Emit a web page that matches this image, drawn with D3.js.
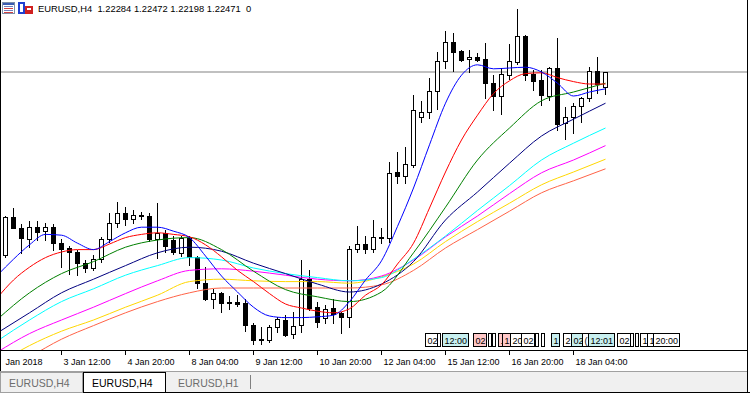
<!DOCTYPE html>
<html>
<head>
<meta charset="utf-8">
<script src="https://cdn.jsdelivr.net/npm/d3@7"></script>
<style>
  body { margin: 0; background: #fff; }
  svg { display: block; font-family: "Liberation Sans", Arial, sans-serif; }
</style>
</head>
<body>
<svg id="chart" width="750" height="393"></svg>
<script>
// EURUSD H4 bars, [open, high, low, close]
const ohlc = [
  [1.2018,1.2067,1.2016,1.2066],[1.2066,1.2077,1.2052,1.2052],[1.2052,1.2057,1.2021,1.2040],[1.2038,1.2061,1.2028,1.2053],
  [1.2053,1.2061,1.2037,1.2047],[1.2048,1.2058,1.2037,1.2053],[1.2053,1.2057,1.2025,1.2033],[1.2033,1.2038,1.2003,1.2026],
  [1.2027,1.2030,1.1995,1.2022],[1.2022,1.2025,1.1993,1.2008],[1.2008,1.2012,1.1997,1.2002],[1.2002,1.2018,1.2000,1.2013],
  [1.2013,1.2041,1.2010,1.2038],[1.2038,1.2071,1.2035,1.2058],[1.2058,1.2085,1.2053,1.2071],[1.2071,1.2078,1.2056,1.2063],
  [1.2063,1.2075,1.2058,1.2068],[1.2068,1.2072,1.2063,1.2067],[1.2067,1.2071,1.2036,1.2038],[1.2038,1.2083,1.2015,1.2046],
  [1.2046,1.2050,1.2022,1.2030],[1.2037,1.2042,1.2020,1.2022],[1.2021,1.2042,1.2017,1.2040],[1.2040,1.2042,1.2006,1.2016],
  [1.2016,1.2017,1.1977,1.1983],[1.1983,1.2003,1.1962,1.1963],[1.1963,1.1976,1.1952,1.1971],[1.1971,1.1972,1.1947,1.1958],
  [1.1958,1.1967,1.1951,1.1960],[1.1960,1.1968,1.1955,1.1957],[1.1958,1.1963,1.1923,1.1931],[1.1931,1.1933,1.1907,1.1912],
  [1.1913,1.1928,1.1907,1.1912],[1.1912,1.1931,1.1910,1.1928],[1.1928,1.1941,1.1922,1.1938],[1.1937,1.1943,1.1917,1.1918],
  [1.1920,1.1947,1.1915,1.1930],[1.1931,1.2012,1.1922,1.1988],[1.1988,1.2000,1.1950,1.1952],[1.1953,1.1960,1.1928,1.1935],
  [1.1940,1.1956,1.1933,1.1951],[1.1952,1.1963,1.1933,1.1945],[1.1946,1.1947,1.1921,1.1941],[1.1941,1.2030,1.1928,1.2026],
  [1.2026,1.2055,1.2022,1.2032],[1.2032,1.2042,1.2021,1.2026],[1.2026,1.2062,1.2022,1.2041],[1.2040,1.2052,1.2033,1.2041],
  [1.2040,1.2135,1.2035,1.2121],[1.2122,1.2147,1.2108,1.2117],[1.2117,1.2153,1.2108,1.2132],[1.2131,1.2218,1.2128,1.2200],
  [1.2191,1.2211,1.2185,1.2197],[1.2197,1.2240,1.2190,1.2223],[1.2223,1.2272,1.2201,1.2261],[1.2261,1.2298,1.2252,1.2285],
  [1.2285,1.2296,1.2248,1.2272],[1.2273,1.2275,1.2261,1.2262],[1.2263,1.2275,1.2247,1.2266],[1.2266,1.2271,1.2261,1.2262],
  [1.2263,1.2283,1.2215,1.2233],[1.2233,1.2243,1.2200,1.2217],[1.2217,1.2252,1.2195,1.2245],[1.2243,1.2282,1.2238,1.2261],
  [1.2260,1.2326,1.2257,1.2292],[1.2292,1.2293,1.2237,1.2243],[1.2245,1.2250,1.2225,1.2236],[1.2237,1.2250,1.2206,1.2218],
  [1.2217,1.2253,1.2212,1.2252],[1.2252,1.2290,1.2175,1.2182],[1.2183,1.2203,1.2163,1.2191],[1.2191,1.2208,1.2171,1.2205],
  [1.2205,1.2216,1.2185,1.2215],[1.2215,1.2253,1.2211,1.2248],[1.2248,1.2266,1.2221,1.2232],[1.22284,1.22472,1.22198,1.22471]
]

const symbol = "EURUSD,H4"
const timeTickBars = [-1, 7, 15, 23, 31, 39, 47, 55, 63, 71]
const timeTickLabels = ["Jan 2018", "3 Jan 12:00", "4 Jan 20:00", "8 Jan 04:00", "9 Jan 12:00",
  "10 Jan 20:00", "12 Jan 04:00", "15 Jan 12:00", "16 Jan 20:00", "18 Jan 04:00"]

// moving averages, sampled every 2 bars (fast ones) or every 4 bars (slow ones)
const fastBars = d3.range(-1, 76, 2)
const slowBars = d3.range(-1, 76, 4)
const maBlue = [1.1993,1.2013,1.2031,1.2044,1.2043,1.2033,1.2025,1.2035,1.2046,1.2053,1.2053,1.2048,1.2040,
  1.2017,1.1992,1.1972,1.1953,1.1942,1.1940,1.1940,1.1941,1.1943,1.1960,1.1987,1.2011,1.2054,1.2102,
  1.2156,1.2208,1.2243,1.2256,1.2251,1.2252,1.2253,1.2247,1.2233,1.2217,1.2222,1.2226]
const maRed = [1.1965,1.1987,1.2003,1.2015,1.2022,1.2025,1.2025,1.2032,1.2040,1.2044,1.2046,1.2044,1.2041,
  1.2031,1.2016,1.1999,1.1985,1.1970,1.1957,1.1952,1.1948,1.1946,1.1951,1.1968,1.1981,1.2007,1.2033,
  1.2077,1.2122,1.2162,1.2193,1.2220,1.2236,1.2245,1.2246,1.2240,1.2235,1.2232,1.2232]
const maGreen = [1.1938,1.1971,1.1995,1.2010,1.2028,1.2037,1.2040,1.2025,1.1998,1.1975,
  1.1966,1.1960,1.1972,1.2021,1.2078,1.2137,1.2177,1.2211,1.2222,1.2233]
const maNavy = [1.1921,1.1946,1.1971,1.1988,1.2005,1.2021,1.2028,1.2023,1.2008,1.1995,
  1.1982,1.1972,1.1982,1.2010,1.2062,1.2097,1.2133,1.2167,1.2188,1.2208]
const maCyan = [1.1911,1.1937,1.1960,1.1976,1.1993,1.2005,1.2015,1.2012,1.2002,1.1995,
  1.1990,1.1986,1.1990,1.2013,1.2042,1.2074,1.2105,1.2137,1.2158,1.2177]
const maMagenta = [1.1897,1.1920,1.1937,1.1953,1.1970,1.1986,1.1999,1.2001,1.1998,1.1993,
  1.1988,1.1986,1.1992,1.2012,1.2041,1.2067,1.2095,1.2121,1.2137,1.2155]
const maGold = [1.1882,1.1905,1.1923,1.1937,1.1953,1.1968,1.1985,1.1988,1.1986,1.1985,
  1.1985,1.1983,1.1991,1.2007,1.2035,1.2060,1.2083,1.2106,1.2122,1.2138]
const maTomato = [1.1870,1.1891,1.1913,1.1930,1.1946,1.1960,1.1971,1.1977,1.1977,1.1977,
  1.1977,1.1977,1.1981,1.1999,1.2027,1.2050,1.2073,1.2096,1.2111,1.2126]

// little time labels along the bottom right
const noteBars  = [52.5, 54, 54.6, 58.5, 60.4, 60.9, 61.6, 62.1, 63.1, 64.5, 66.25, 67, 68.25, 69.8, 70.8, 72.1, 72.9, 76.5, 78.1, 78.75, 79.4, 80.2, 81]
const noteTexts = ["02", "", "12:00", "02", "", "", ".", "1", "20", "02", "", "", "1", "2", "02", "(", "12:01", "02", "", "", "1", "1", "20:00"]
const noteFills = ["#fff","#fff","#c8f0f0","#ffc8c8","#fff","#fff","#ffc8c8","#ffc8c8","#fff","#fff","#fff","#fff","#c8f0f0","#fff","#c8f0f0","#fff","#c8f0f0","#fff","#fff","#fff","#fff","#fff","#fff"]

const tabNames = ["EURUSD,H4", "EURUSD,H4", "EURUSD,H1"]
const activeTab = 1

const svg = d3.select("#chart")
const plotRight = 747, plotBottom = 350

const x = d3.scaleLinear().domain([0, 75]).range([5, 605])
const y = d3.scaleLinear().domain([1.19045, 1.2337]).range([346, 0])
const ry = v => Math.round(y(v))

svg.append("rect").attr("width", 750).attr("height", 393).attr("fill", "#fff")

svg.append("clipPath").attr("id", "plotClip")
  .append("rect").attr("x", 1).attr("y", 0).attr("width", plotRight - 1).attr("height", plotBottom)

const plot = svg.append("g").attr("clip-path", "url(#plotClip)")

// bid line
const last = ohlc[ohlc.length - 1]
plot.append("line")
  .attr("x1", 0).attr("x2", plotRight)
  .attr("y1", ry(last[3])).attr("y2", ry(last[3]))
  .attr("stroke", "#c0c0c0").attr("stroke-width", 2)

// candles
const candles = plot.append("g").selectAll("g").data(ohlc).join("g")
candles.append("line")
  .attr("x1", (d, i) => x(i) + 0.5).attr("x2", (d, i) => x(i) + 0.5)
  .attr("y1", d => ry(d[1])).attr("y2", d => ry(d[2]) + 1)
  .attr("stroke", "#000")
candles.append("rect")
  .attr("x", (d, i) => x(i) - 1.5)
  .attr("y", d => Math.min(ry(d[0]), ry(d[3])) + 0.5)
  .attr("width", 4)
  .attr("height", d => Math.abs(ry(d[0]) - ry(d[3])))
  .attr("fill", d => d[3] >= d[0] ? "#fff" : "#000")
  .attr("stroke", "#000")

// moving averages
const maSeries = [
  {bars: slowBars, values: maTomato, color: "#ff6347"},
  {bars: slowBars, values: maGold, color: "#ffd700"},
  {bars: slowBars, values: maMagenta, color: "#ff00ff"},
  {bars: slowBars, values: maCyan, color: "#00ffff"},
  {bars: slowBars, values: maNavy, color: "#000080"},
  {bars: slowBars, values: maGreen, color: "#008000"},
  {bars: fastBars, values: maRed, color: "#ff0000"},
  {bars: fastBars, values: maBlue, color: "#0000ff"}
]
plot.append("g").selectAll("path").data(maSeries).join("path")
  .attr("fill", "none")
  .attr("stroke", d => d.color)
  .attr("stroke-width", 1)
  .attr("d", s => d3.line()
    .x((v, i) => x(s.bars[i]) + 0.5)
    .y(v => y(v))
    .curve(d3.curveMonotoneX)(s.values))

// notes near the bottom
const notes = plot.append("g").selectAll("g").data(noteBars).join("g")
  .attr("transform", b => `translate(${Math.round(x(b)) + 0.5},333.5)`)
notes.append("rect").attr("height", 13).attr("stroke", "#000").attr("fill", (b, i) => noteFills[i])
notes.append("text").attr("x", 2).attr("y", 10).attr("font-size", 9).attr("fill", "#000")
  .text((b, i) => noteTexts[i])
notes.each(function () {
  const w = d3.select(this).select("text").node().getComputedTextLength()
  d3.select(this).select("rect").attr("width", Math.max(2, Math.round(w) + 3))
})

// header
const hdr = svg.append("g")
hdr.append("rect").attr("x", 2.5).attr("y", 2.5).attr("width", 12).attr("height", 11).attr("fill", "#fff").attr("stroke", "#7f8fa8")
hdr.append("rect").attr("x", 3).attr("y", 3).attr("width", 11).attr("height", 2).attr("fill", "#3a5bb0")
hdr.selectAll("line.ic").data([6, 8, 10, 12]).join("line")
  .attr("x1", 4).attr("x2", 13).attr("y1", d => d + 0.5).attr("y2", d => d + 0.5)
  .attr("stroke", (d, i) => i % 2 ? "#d04040" : "#7080c0")
hdr.append("rect").attr("x", 18).attr("y", 2).attr("width", 7).attr("height", 12).attr("fill", "#2040d0")
hdr.append("rect").attr("x", 25).attr("y", 6).attr("width", 8).attr("height", 8).attr("fill", "#d02020")
hdr.append("rect").attr("x", 20).attr("y", 4).attr("width", 3).attr("height", 8).attr("fill", "#fff")
hdr.append("rect").attr("x", 27).attr("y", 8).attr("width", 4).attr("height", 2).attr("fill", "#fff")
const f5 = d3.format(".5f")
hdr.append("text").attr("x", 38).attr("y", 12).attr("font-size", 9.4)
  .style("white-space", "pre")
  .text(`${symbol}  ${last.map(f5).join(" ")}  0`)

// time axis
svg.append("line").attr("x1", 0).attr("x2", plotRight).attr("y1", plotBottom + 0.5).attr("y2", plotBottom + 0.5).attr("stroke", "#000")
const ticks = svg.append("g").selectAll("g").data(timeTickBars).join("g")
  .attr("transform", b => `translate(${x(b) + 0.5},${plotBottom})`)
ticks.append("line").attr("y1", 0).attr("y2", 5).attr("stroke", "#000")
ticks.append("text")
  .attr("x", (b, i) => i === 0 ? 8 : 2).attr("y", 15)
  .attr("font-size", 9).attr("fill", "#000")
  .text((b, i) => timeTickLabels[i])

// frame
svg.append("line").attr("x1", 0.5).attr("x2", 0.5).attr("y1", 0).attr("y2", 372).attr("stroke", "#000")
svg.append("line").attr("x1", plotRight + 0.5).attr("x2", plotRight + 0.5).attr("y1", 0).attr("y2", 393).attr("stroke", "#000")

// tab strip
const tabs = svg.append("g")
tabs.append("rect").attr("x", 0).attr("y", 372).attr("width", plotRight).attr("height", 21).attr("fill", "#f0f0f0")
tabs.append("line").attr("x1", 0).attr("x2", plotRight).attr("y1", 371.5).attr("y2", 371.5).attr("stroke", "#a0a0a0")
tabs.append("line").attr("x1", 0).attr("x2", 750).attr("y1", 392.5).attr("y2", 392.5).attr("stroke", "#000")
const tabW = 83
const tg = tabs.selectAll("g").data(tabNames).join("g")
  .attr("transform", (d, i) => `translate(${i * tabW},372)`)
tg.filter((d, i) => i < 2).append("rect")
  .attr("x", 0.5).attr("y", 0.5).attr("width", tabW - 1).attr("height", 20)
  .attr("fill", (d, i) => i === activeTab ? "#fff" : "#f0f0f0")
  .attr("stroke", (d, i) => i === activeTab ? "#000" : "#a0a0a0")
tg.append("text").attr("x", (d, i) => i === 2 ? 12 : 9).attr("y", 15).attr("font-size", 10.5)
  .attr("fill", (d, i) => i === activeTab ? "#000" : "#6d6d6d")
  .text(d => d)
tabs.append("line").attr("x1", 250.5).attr("x2", 250.5).attr("y1", 375).attr("y2", 389).attr("stroke", "#808080")
</script>
</body>
</html>
